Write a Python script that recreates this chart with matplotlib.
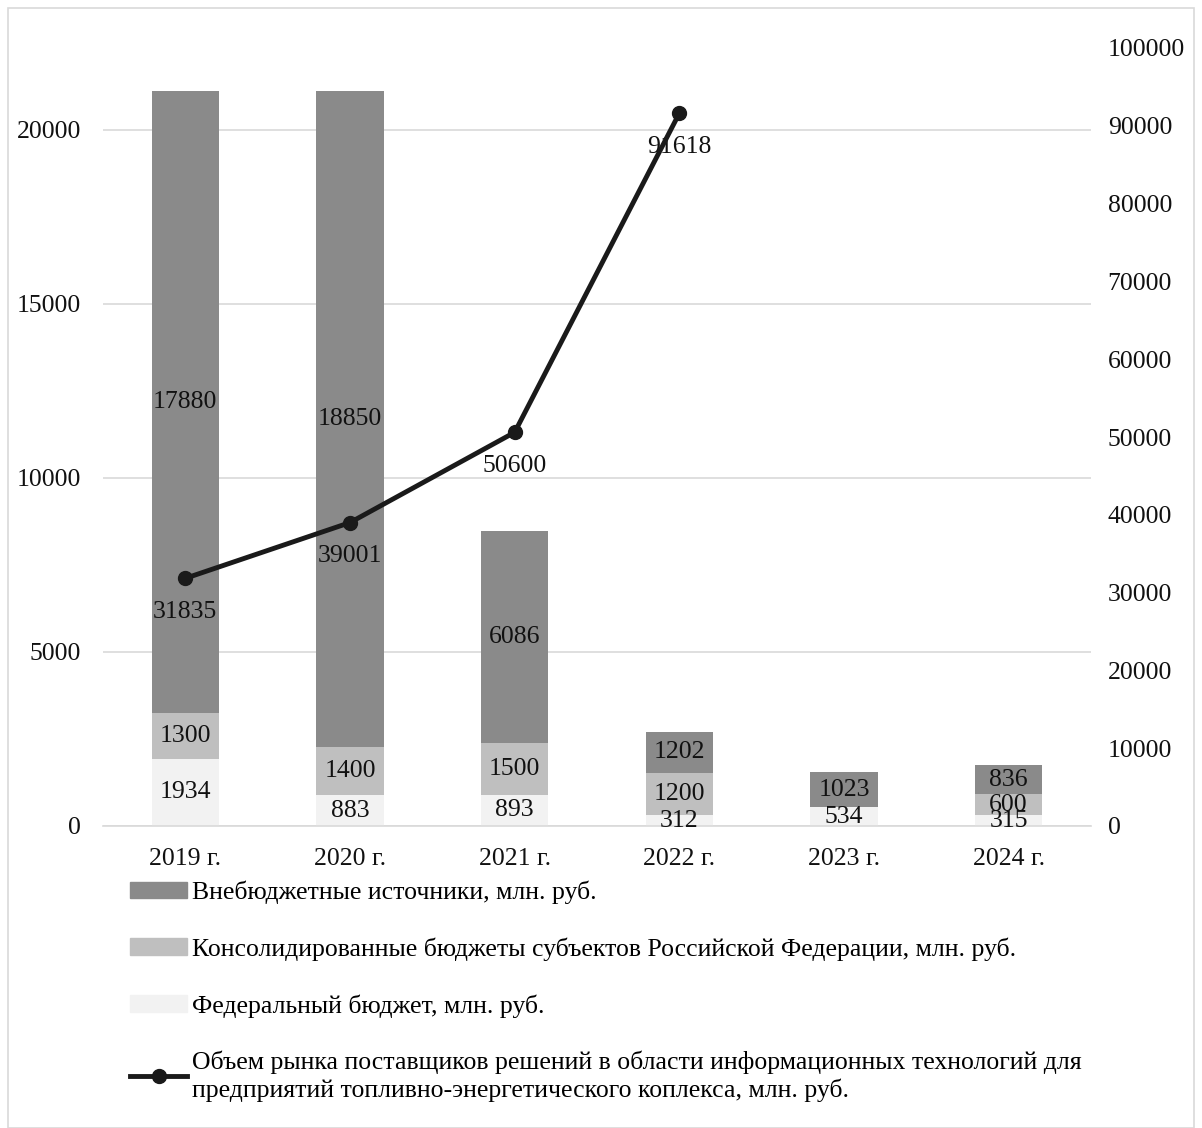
import matplotlib.pyplot as plt
import matplotlib.patches as mpatches
import numpy as np

plt.rcParams['font.family'] = ['Liberation Serif', 'DejaVu Serif']

years = ["2019 г.", "2020 г.", "2021 г.", "2022 г.", "2023 г.", "2024 г."]
federal = [1934, 883, 893, 312, 534, 315]
regional = [1300, 1400, 1500, 1200, 0, 600]
offbudget = [17880, 18850, 6086, 1202, 1023, 836]
market_years = ["2019 г.", "2020 г.", "2021 г.", "2022 г."]
market = [31835, 39001, 50600, 91618]

names = ["Внебюджетные источники, млн. руб.",
         "Консолидированные бюджеты субъектов Российской Федерации, млн. руб.",
         "Федеральный бюджет, млн. руб.",
         "Объем рынка поставщиков решений в области информационных технологий для\n"
         "предприятий топливно-энергетического коплекса, млн. руб."]

c_off = '#8a8a8a'
c_reg = '#bfbfbf'
c_fed = '#f2f2f2'
fs = 18.5

fig = plt.figure(figsize=(12.02, 11.28), dpi=100)
ax = fig.add_axes([103/1202, 1 - 826/1128, (1091-103)/1202, (826-48)/1128])
ax2 = ax.twinx()

x = np.arange(len(years))
w = 0.41
fed = np.array(federal)
reg = np.array(regional)
off = np.array(offbudget)
ax.bar(x, fed, w, color=c_fed, zorder=2)
ax.bar(x, reg, w, bottom=fed, color=c_reg, zorder=2)
ax.bar(x, off, w, bottom=fed + reg, color=c_off, zorder=2)

# segment labels
for vals, bottoms in [(fed, np.zeros(len(fed))), (reg, fed), (off, fed + reg)]:
    for i, (v, b) in enumerate(zip(vals, bottoms)):
        if v > 0:
            ax.text(x[i], b + v / 2, str(v), ha='center', va='center',
                    fontsize=fs, color='#111111', zorder=4)

ax.set_ylim(0, 22356)
ax.set_yticks([0, 5000, 10000, 15000, 20000])
ax.set_xlim(-0.5, len(years) - 0.5)
ax.set_xticks(x)
ax.set_xticklabels(years)
ax.grid(axis='y', color='#d9d9d9', linewidth=1.2, zorder=0)
ax.set_axisbelow(True)
for s in ['top', 'left', 'right']:
    ax.spines[s].set_visible(False)
ax.spines['bottom'].set_color('#d9d9d9')
ax.spines['bottom'].set_linewidth(1.2)
ax.tick_params(axis='both', length=0, labelsize=fs, colors='#111111')
ax.tick_params(axis='y', pad=16)
ax.tick_params(axis='x', pad=16)

mx = [years.index(y) for y in market_years]
line, = ax2.plot(mx, market, color='#1a1a1a', linewidth=3.5, marker='o',
                 markersize=10, zorder=5)
for xi, v in zip(mx, market):
    ax2.annotate(str(v), (xi, v), xytext=(0, -24), textcoords='offset points',
                 ha='center', va='center', fontsize=fs, color='#111111')
ax2.set_ylim(0, 100000)
ax2.set_yticks(np.arange(0, 100001, 10000))
for s in ax2.spines.values():
    s.set_visible(False)
ax2.tick_params(axis='y', length=0, labelsize=fs, colors='#111111', pad=12)

handles = [mpatches.Patch(color=c_off), mpatches.Patch(color=c_reg),
           mpatches.Patch(color=c_fed), line]
fig.legend(handles, names, loc='upper left', bbox_to_anchor=(120/1202, 1 - 870/1128),
           frameon=False, fontsize=fs, labelspacing=1.3, handlelength=2.2,
           handleheight=0.6, handletextpad=0.2, borderaxespad=0)

fig.patches.append(mpatches.Rectangle((8/1202, 0), 1186/1202, 1 - 8/1128,
                                      transform=fig.transFigure, fill=False,
                                      edgecolor='#d9d9d9', linewidth=1.2))

fig.savefig('out.png', dpi=100)
